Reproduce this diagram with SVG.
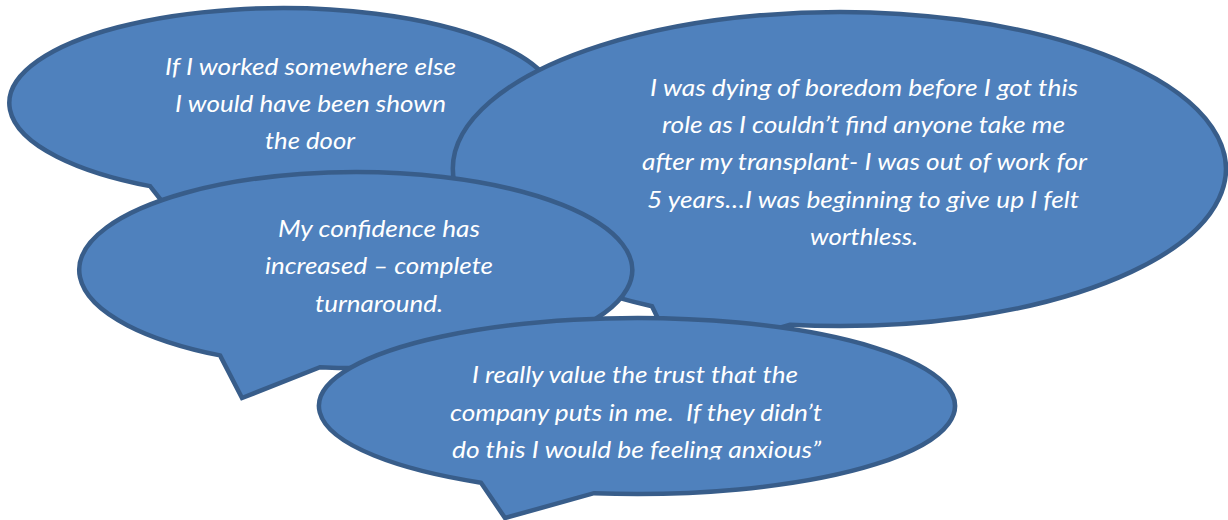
<svg xmlns="http://www.w3.org/2000/svg" width="1228" height="520" viewBox="0 0 1228 520">
  <style>
    .bubble { fill: #4F81BD; stroke: #385D8A; stroke-width: 4.5; stroke-linejoin: miter; }
    .quote { font-family: Lato, "Open Sans", "Liberation Sans", sans-serif; font-style: italic; font-size: 23.5px; fill: #FFFFFF; text-anchor: middle; white-space: pre; }
  </style>
  <defs>
    <clipPath id="clip-last-line">
      <rect x="300" y="300" width="700" height="159.5"/>
    </clipPath>
  </defs>
  <rect width="1228" height="520" fill="#FFFFFF"/>

  <!-- Callout 1: top left -->
  <g id="callout-shown-the-door">
    <path class="bubble" d="M150 186.1 L190 237 L232 196.4 A273.5 95 0 1 0 150 186.1 Z"/>
    <text class="quote" x="310.5" y="75" textLength="291" lengthAdjust="spacingAndGlyphs">If I worked somewhere else</text>
    <text class="quote" x="310.5" y="112" textLength="271" lengthAdjust="spacingAndGlyphs">I would have been shown</text>
    <text class="quote" x="310" y="149" textLength="90" lengthAdjust="spacingAndGlyphs">the door</text>
  </g>

  <!-- Callout 2: large, top right -->
  <g id="callout-boredom">
    <path class="bubble" d="M652 306.3 L677 358 L790 324.7 A386.5 157 0 1 0 652 306.3 Z"/>
    <text class="quote" x="864" y="96" textLength="428" lengthAdjust="spacingAndGlyphs">I was dying of boredom before I got this</text>
    <text class="quote" x="863.5" y="133" textLength="403" lengthAdjust="spacingAndGlyphs">role as I couldn’t find anyone take me</text>
    <text class="quote" x="864.5" y="170" textLength="445" lengthAdjust="spacingAndGlyphs">after my transplant- I was out of work for</text>
    <text class="quote" x="863" y="208" textLength="432" lengthAdjust="spacingAndGlyphs">5 years…I was beginning to give up I felt</text>
    <text class="quote" x="864" y="245" textLength="108" lengthAdjust="spacingAndGlyphs">worthless.</text>
  </g>

  <!-- Callout 3: middle left -->
  <g id="callout-confidence">
    <path class="bubble" d="M220 355.4 L242 398 L320 367.2 A276.5 98 0 1 0 220 355.4 Z"/>
    <text class="quote" x="379" y="237" textLength="202" lengthAdjust="spacingAndGlyphs">My confidence has</text>
    <text class="quote" x="379" y="274" textLength="228" lengthAdjust="spacingAndGlyphs">increased – complete</text>
    <text class="quote" x="379" y="312" textLength="128" lengthAdjust="spacingAndGlyphs">turnaround.</text>
  </g>

  <!-- Callout 4: bottom -->
  <g id="callout-trust">
    <path class="bubble" d="M481 482.7 L505 518 L594 493.2 A318 88 0 1 0 481 482.7 Z"/>
    <text class="quote" x="635" y="383" textLength="326" lengthAdjust="spacingAndGlyphs">I really value the trust that the</text>
    <text class="quote" x="636" y="421" textLength="372" lengthAdjust="spacingAndGlyphs">company puts in me.  If they didn’t</text>
    <text class="quote" x="636.5" y="458" textLength="369" lengthAdjust="spacingAndGlyphs" clip-path="url(#clip-last-line)">do this I would be feeling anxious”</text>
  </g>

  <!-- no connectors between callouts -->
  <g id="connectors"/>
</svg>
